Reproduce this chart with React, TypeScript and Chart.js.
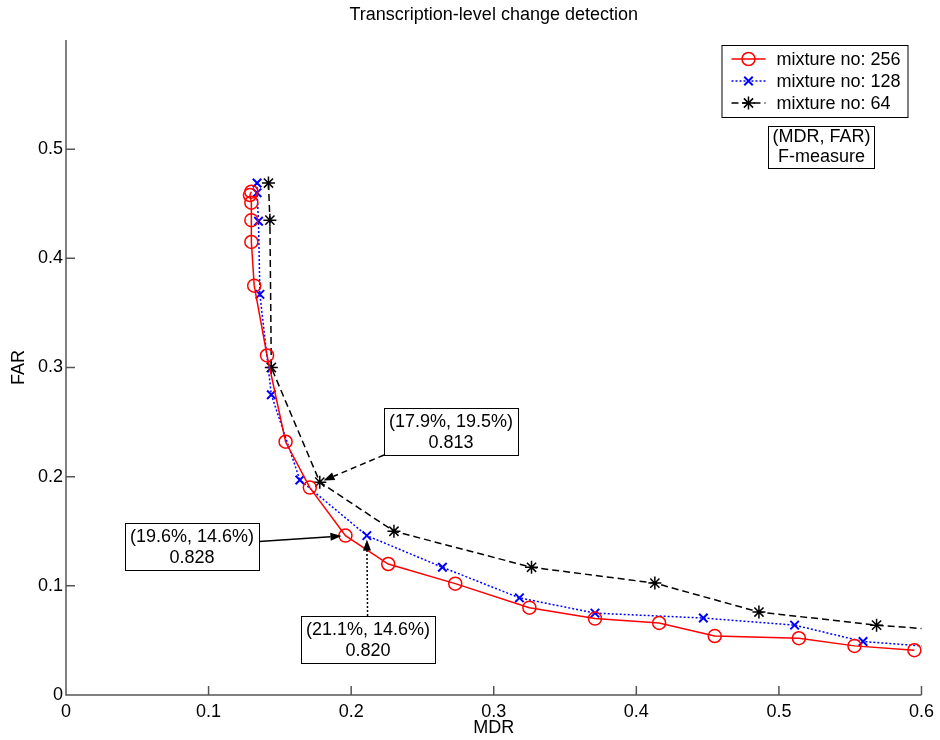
import React, { useEffect, useRef } from 'react';
import { Chart, registerables } from 'chart.js';

Chart.register(...registerables);

// ---------- data ----------
const TITLE = 'Transcription-level change detection';
const X_LABEL = 'MDR';
const Y_LABEL = 'FAR';
const X_TICKS = [0, 0.1, 0.2, 0.3, 0.4, 0.5, 0.6];
const Y_TICKS = [0, 0.1, 0.2, 0.3, 0.4, 0.5];
const SERIES_NAMES = ['mixture no: 256', 'mixture no: 128', 'mixture no: 64'];

const mix256X = [0.130, 0.129, 0.130, 0.130, 0.130, 0.132, 0.141, 0.154, 0.171, 0.196, 0.226, 0.273, 0.325, 0.371, 0.416, 0.455, 0.514, 0.553, 0.595];
const mix256Y = [0.461, 0.458, 0.451, 0.435, 0.415, 0.375, 0.311, 0.232, 0.190, 0.146, 0.120, 0.102, 0.080, 0.070, 0.066, 0.054, 0.052, 0.045, 0.041];

const mix128X = [0.134, 0.134, 0.135, 0.136, 0.144, 0.164, 0.211, 0.264, 0.318, 0.371, 0.447, 0.511, 0.559, 0.620];
const mix128Y = [0.469, 0.460, 0.434, 0.367, 0.275, 0.197, 0.146, 0.117, 0.089, 0.075, 0.0705, 0.064, 0.049, 0.043];

const mix64X = [0.142, 0.143, 0.144, 0.178, 0.230, 0.3265, 0.413, 0.486, 0.5685, 0.640];
const mix64Y = [0.469, 0.435, 0.300, 0.195, 0.150, 0.117, 0.1025, 0.076, 0.064, 0.057];

const ANNOT_LINES = [
  ['(17.9%, 19.5%)', '0.813'],
  ['(19.6%, 14.6%)', '0.828'],
  ['(21.1%, 14.6%)', '0.820'],
];
const ANNOT_TARGET_X = [0.178, 0.196, 0.211];
const ANNOT_TARGET_Y = [0.195, 0.146, 0.146];
const KEY_LINES = ['(MDR, FAR)', 'F-measure'];

// ---------- layout / style ----------
const FONT = '"Liberation Sans", Arial, sans-serif';
const FS = 18;
const AXIS_COLOR = '#555555';
const ANNOT_BOX_CX = [0.2703, 0.0885, 0.2115]; // box centres, data units
const ANNOT_BOX_CY = [0.2413, 0.1360, 0.0508];
const ANNOT_TAIL = ['bottomleft', 'right', 'top'];
const ANNOT_DASH = [[6, 4], [], [2, 2]];
const SERIES_STYLE = [
  { color: '#ff0000', dash: [] as number[], marker: 'circle', r: 6.5, lw: 1.5 },
  { color: '#0000ff', dash: [2, 2], marker: 'crossRot', r: 6, lw: 2 },
  { color: '#000000', dash: [7, 4], marker: 'star', r: 6.5, lw: 1.5 },
];

function fmt(v: number) {
  return String(Math.round(v * 10) / 10);
}

function drawMarker(ctx: CanvasRenderingContext2D, style: string, x: number, y: number, r: number, color: string, lw: number) {
  ctx.save();
  ctx.setLineDash([]);
  ctx.strokeStyle = color;
  ctx.lineWidth = lw;
  ctx.beginPath();
  if (style === 'circle') {
    ctx.arc(x, y, r, 0, Math.PI * 2);
  } else {
    const d = r * 0.7071;
    ctx.moveTo(x - d, y - d); ctx.lineTo(x + d, y + d);
    ctx.moveTo(x + d, y - d); ctx.lineTo(x - d, y + d);
    if (style === 'star') {
      ctx.moveTo(x - r, y); ctx.lineTo(x + r, y);
      ctx.moveTo(x, y - r); ctx.lineTo(x, y + r);
    }
  }
  ctx.stroke();
  ctx.restore();
}

function arrow(ctx: CanvasRenderingContext2D, x0: number, y0: number, x1: number, y1: number, dash: number[]) {
  const ang = Math.atan2(y1 - y0, x1 - x0);
  const shorten = 4;
  const tx = x1 - Math.cos(ang) * shorten;
  const ty = y1 - Math.sin(ang) * shorten;
  const hl = 11, hw = 4;
  const bx = tx - Math.cos(ang) * hl;
  const by = ty - Math.sin(ang) * hl;
  ctx.save();
  ctx.strokeStyle = '#000';
  ctx.lineWidth = 1.5;
  ctx.setLineDash(dash);
  ctx.beginPath();
  ctx.moveTo(x0, y0);
  ctx.lineTo(bx, by);
  ctx.stroke();
  ctx.setLineDash([]);
  ctx.fillStyle = '#000';
  ctx.beginPath();
  ctx.moveTo(tx, ty);
  ctx.lineTo(bx - Math.sin(ang) * hw, by + Math.cos(ang) * hw);
  ctx.lineTo(bx + Math.sin(ang) * hw, by - Math.cos(ang) * hw);
  ctx.closePath();
  ctx.fill();
  ctx.restore();
}

const overlayPlugin = {
  id: 'overlay',
  afterDraw(chart: any) {
    const { ctx, chartArea: a, scales } = chart;
    const xs = scales.x, ys = scales.y;
    ctx.save();

    // axes (box off) with inward ticks
    ctx.strokeStyle = AXIS_COLOR;
    ctx.lineWidth = 1.5;
    ctx.setLineDash([]);
    ctx.beginPath();
    ctx.moveTo(a.left, a.top);
    ctx.lineTo(a.left, a.bottom);
    ctx.lineTo(a.right, a.bottom);
    X_TICKS.forEach((v) => {
      const px = xs.getPixelForValue(v);
      ctx.moveTo(px, a.bottom);
      ctx.lineTo(px, a.bottom - 9);
    });
    Y_TICKS.forEach((v) => {
      const py = ys.getPixelForValue(v);
      ctx.moveTo(a.left, py);
      ctx.lineTo(a.left + 9, py);
    });
    ctx.stroke();

    // title & axis titles
    ctx.fillStyle = '#000';
    ctx.font = `${FS}px ${FONT}`;
    ctx.textAlign = 'center';
    ctx.textBaseline = 'alphabetic';
    ctx.fillText(TITLE, (a.left + a.right) / 2, 20);
    ctx.textBaseline = 'middle';
    ctx.fillText(X_LABEL, xs.getPixelForValue(0.3), 728);
    ctx.save();
    ctx.translate(19, ys.getPixelForValue(0.3));
    ctx.rotate(-Math.PI / 2);
    ctx.fillText(Y_LABEL, 0, 0);
    ctx.restore();

    // legend
    const lw = 186, lh = 72;
    const lx = a.right - 14 - lw, ly = a.top + 5;
    ctx.fillStyle = '#fff';
    ctx.fillRect(lx, ly, lw, lh);
    ctx.strokeStyle = '#000';
    ctx.lineWidth = 1;
    ctx.strokeRect(lx + 0.5, ly + 0.5, lw, lh);
    SERIES_NAMES.forEach((name, i) => {
      const s = SERIES_STYLE[i];
      const ry = ly + 14 + i * 22;
      ctx.save();
      ctx.strokeStyle = s.color;
      ctx.lineWidth = 1.5;
      ctx.setLineDash(s.dash);
      ctx.beginPath();
      ctx.moveTo(lx + 10, ry);
      ctx.lineTo(lx + 44, ry);
      ctx.stroke();
      ctx.restore();
      drawMarker(ctx, s.marker, lx + 27, ry, s.r, s.color, s.lw);
      ctx.fillStyle = '#000';
      ctx.textAlign = 'left';
      ctx.textBaseline = 'middle';
      ctx.fillText(name, lx + 55, ry + 1);
    });

    // key box
    ctx.textAlign = 'center';
    const kw = Math.max(...KEY_LINES.map((t) => ctx.measureText(t).width)) + 8;
    const kcx = lx + 100, ky = ly + lh + 9, kh = 42;
    ctx.fillStyle = '#fff';
    ctx.fillRect(kcx - kw / 2, ky, kw, kh);
    ctx.strokeStyle = '#000';
    ctx.strokeRect(Math.round(kcx - kw / 2) + 0.5, ky + 0.5, Math.round(kw), kh);
    ctx.fillStyle = '#000';
    KEY_LINES.forEach((t, i) => ctx.fillText(t, kcx, ky + 11 + i * 20));

    // annotations
    ANNOT_LINES.forEach((lines, i) => {
      const w = Math.round(Math.max(...lines.map((t) => ctx.measureText(t).width)) + 10);
      const h = 47;
      const cx = xs.getPixelForValue(ANNOT_BOX_CX[i]);
      const cy = ys.getPixelForValue(ANNOT_BOX_CY[i]);
      const bx = Math.round(cx - w / 2), by = Math.round(cy - h / 2);
      const tx = xs.getPixelForValue(ANNOT_TARGET_X[i]);
      const ty = ys.getPixelForValue(ANNOT_TARGET_Y[i]);
      let sx = bx, sy = by;
      if (ANNOT_TAIL[i] === 'bottomleft') { sx = bx; sy = by + h; }
      else if (ANNOT_TAIL[i] === 'right') { sx = bx + w; sy = cy - 5; }
      else { sx = cx; sy = by; }
      arrow(ctx, sx, sy, tx, ty, ANNOT_DASH[i]);
      ctx.fillStyle = '#fff';
      ctx.fillRect(bx, by, w, h);
      ctx.strokeStyle = '#000';
      ctx.lineWidth = 1;
      ctx.setLineDash([]);
      ctx.strokeRect(bx + 0.5, by + 0.5, w, h);
      ctx.fillStyle = '#000';
      ctx.textAlign = 'center';
      ctx.textBaseline = 'middle';
      lines.forEach((t, k) => ctx.fillText(t, bx + w / 2, by + 14 + k * 21));
    });

    ctx.restore();
  },
};

function makeDataset(i: number, xsArr: number[], ysArr: number[], clip: any) {
  const s = SERIES_STYLE[i];
  return {
    label: SERIES_NAMES[i],
    data: xsArr.map((x, k) => ({ x, y: ysArr[k] })),
    showLine: true,
    borderColor: s.color,
    borderWidth: 1.5,
    borderDash: s.dash,
    pointStyle: s.marker,
    pointRadius: s.r,
    pointBorderWidth: s.lw,
    pointBorderColor: s.color,
    pointBackgroundColor: 'rgba(0,0,0,0)',
    tension: 0,
    clip,
  };
}

export default function App() {
  const ref = useRef<HTMLCanvasElement | null>(null);
  useEffect(() => {
    if (!ref.current) return;
    const clipRight = { left: false, top: false, right: 0, bottom: false };
    const chart = new Chart(ref.current, {
      type: 'scatter',
      data: {
        datasets: [
          makeDataset(0, mix256X, mix256Y, false),
          makeDataset(1, mix128X, mix128Y, clipRight),
          makeDataset(2, mix64X, mix64Y, clipRight),
        ] as any,
      },
      options: {
        animation: false,
        responsive: false,
        devicePixelRatio: 1,
        events: [],
        layout: { padding: { left: 0, top: 40, right: 17, bottom: 0 } },
        plugins: { legend: { display: false }, tooltip: { enabled: false }, title: { display: false } },
        scales: {
          x: {
            type: 'linear',
            min: 0,
            max: 0.6,
            grid: { display: false, drawTicks: false },
            border: { display: false },
            afterBuildTicks: (s: any) => { s.ticks = X_TICKS.map((v) => ({ value: v })); },
            afterFit: (s: any) => { s.height = 45; },
            ticks: {
              padding: 6,
              color: '#000',
              maxRotation: 0,
              autoSkip: false,
              font: { family: FONT, size: FS },
              callback: (v: any) => fmt(Number(v)),
            },
          },
          y: {
            type: 'linear',
            min: 0,
            max: 0.6,
            grid: { display: false, drawTicks: false },
            border: { display: false },
            afterBuildTicks: (s: any) => { s.ticks = Y_TICKS.map((v) => ({ value: v })); },
            afterFit: (s: any) => { s.width = 66; },
            ticks: {
              padding: 3,
              color: '#000',
              autoSkip: false,
              font: { family: FONT, size: FS },
              callback: (v: any) => fmt(Number(v)),
            },
          },
        },
      } as any,
      plugins: [overlayPlugin],
    });
    return () => chart.destroy();
  }, []);

  return (
    <div style={{ position: 'absolute', left: 0, top: 0, width: 940, height: 740, background: '#fff' }}>
      <canvas ref={ref} width={940} height={740} />
    </div>
  );
}
